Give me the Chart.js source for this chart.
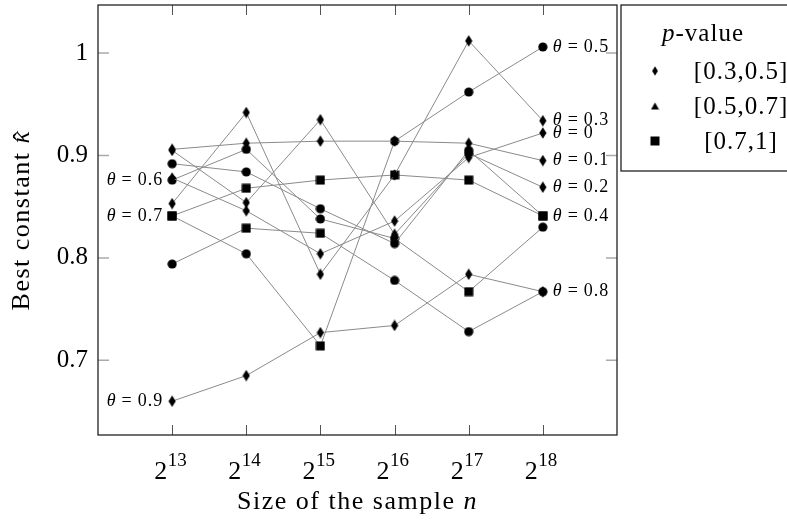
<!DOCTYPE html>
<html>
<head>
<meta charset="utf-8">
<script src="https://cdn.jsdelivr.net/npm/chart.js@4.4.1/dist/chart.umd.min.js"></script>
<style>
  body { margin: 0; background: #fff; }
  #mycanvas { display: block; }
</style>
</head>
<body>
<canvas id="mycanvas" width="787" height="520"></canvas>
<script>
// sample size exponents (n = 2^k)
var sizeExp = [13, 14, 15, 16, 17, 18];
var yTicks = [0.7, 0.8, 0.9, 1];

// best constant per theta
var kTheta00 = [0.878, 0.846, 0.804, 0.836, 0.898, 0.922];
var kTheta01 = [0.906, 0.912, 0.914, 0.914, 0.912, 0.895];
var kTheta02 = [0.905, 0.854, 0.935, 0.823, 0.902, 0.869];
var kTheta03 = [0.853, 0.942, 0.784, 0.881, 1.012, 0.934];
var kTheta04 = [0.892, 0.884, 0.848, 0.814, 0.905, 0.841];
var kTheta05 = [0.841, 0.804, 0.714, 0.914, 0.962, 1.006];
var kTheta06 = [0.876, 0.906, 0.838, 0.819, 0.767, 0.830];
var kTheta07 = [0.841, 0.868, 0.876, 0.881, 0.876, 0.841];
var kTheta08 = [0.794, 0.829, 0.824, 0.778, 0.728, 0.767];
var kTheta09 = [0.660, 0.685, 0.727, 0.734, 0.784, 0.767];

// p-value class of each point: 0 = below 0.3, 1 = [0.3,0.5], 2 = [0.5,0.7], 3 = [0.7,1]
var pTheta00 = [1, 1, 1, 1, 1, 1];
var pTheta01 = [1, 1, 1, 1, 1, 1];
var pTheta02 = [1, 1, 1, 1, 0, 1];
var pTheta03 = [1, 1, 1, 1, 1, 1];
var pTheta04 = [0, 0, 0, 0, 0, 3];
var pTheta05 = [3, 0, 3, 0, 0, 0];
var pTheta06 = [0, 0, 0, 0, 3, 0];
var pTheta07 = [3, 3, 3, 3, 3, 3];
var pTheta08 = [0, 3, 3, 0, 0, 0];
var pTheta09 = [1, 1, 1, 1, 1, 1];

var thetaNames = ['0', '0.1', '0.2', '0.3', '0.4', '0.5', '0.6', '0.7', '0.8', '0.9'];
var legendTitle = 'value';
var legendLabels = ['[0.3,0.5]', '[0.5,0.7]', '[0.7,1]'];
var xTitle = 'Size of the sample ';
var yTitle = 'Best constant ';

var kAll = [kTheta00, kTheta01, kTheta02, kTheta03, kTheta04, kTheta05, kTheta06, kTheta07, kTheta08, kTheta09];
var pAll = [pTheta00, pTheta01, pTheta02, pTheta03, pTheta04, pTheta05, pTheta06, pTheta07, pTheta08, pTheta09];
// which end gets the theta label
var labelLeft = [false, false, false, false, false, false, true, true, false, true];

var SERIF = '"Liberation Serif", "DejaVu Serif", serif';

function mk(w, h, draw) {
	var c = document.createElement('canvas');
	c.width = w; c.height = h;
	var g = c.getContext('2d');
	g.fillStyle = '#000';
	g.beginPath();
	draw(g, w, h);
	g.fill();
	return c;
}
var mCircle = mk(10, 10, function(g){ g.arc(5, 5, 4.6, 0, Math.PI * 2); });
var mDiamond = mk(8, 12, function(g){ g.moveTo(4, 0.3); g.lineTo(7.6, 6); g.lineTo(4, 11.7); g.lineTo(0.4, 6); g.closePath(); });
var mTriangle = mk(9, 8, function(g){ g.moveTo(4.5, 0.5); g.lineTo(8.5, 7.5); g.lineTo(0.5, 7.5); g.closePath(); });
var mSquare = mk(10, 10, function(g){ g.rect(0.5, 0.5, 9, 9); });
var markFor = [mCircle, mDiamond, mTriangle, mSquare];

var datasets = [];
for (var i = 0; i < kAll.length; i++) {
	var pts = [];
	for (var j = 0; j < sizeExp.length; j++) pts.push({x: sizeExp[j], y: kAll[i][j]});
	datasets.push({
		label: 'theta = ' + thetaNames[i],
		data: pts,
		borderColor: '#8a8a8a',
		borderWidth: 1,
		pointStyle: pAll[i].map(function(c){ return markFor[c]; }),
		pointRadius: 5,
		pointHoverRadius: 5,
		tension: 0,
		clip: false
	});
}

function spaced(ctx, px) {
	if ('letterSpacing' in ctx) ctx.letterSpacing = px + 'px';
}

var framePlugin = {
	id: 'frame',
	afterDraw: function(chart) {
		var ctx = chart.ctx, a = chart.chartArea;
		var xs = chart.scales.x, ys = chart.scales.y;
		ctx.save();
		// inner ticks
		ctx.lineWidth = 1;
		ctx.strokeStyle = '#555';
		sizeExp.forEach(function(e){
			var px = Math.round(xs.getPixelForValue(e)) + 0.5;
			ctx.beginPath();
			ctx.moveTo(px, a.top); ctx.lineTo(px, a.top + 10);
			ctx.moveTo(px, a.bottom); ctx.lineTo(px, a.bottom - 10);
			ctx.stroke();
		});
		ctx.strokeStyle = '#aaa';
		ctx.lineWidth = 1.5;
		yTicks.forEach(function(v){
			var py = ys.getPixelForValue(v);
			ctx.beginPath();
			ctx.moveTo(a.left, py); ctx.lineTo(a.left + 11, py);
			ctx.moveTo(a.right, py); ctx.lineTo(a.right - 11, py);
			ctx.stroke();
		});
		// frame
		ctx.strokeStyle = '#222';
		ctx.lineWidth = 1.3;
		ctx.strokeRect(a.left, a.top, a.right - a.left, a.bottom - a.top);

		// x tick labels 2^k
		ctx.fillStyle = '#000';
		ctx.textBaseline = 'alphabetic';
		ctx.textAlign = 'left';
		sizeExp.forEach(function(e){
			var px = xs.getPixelForValue(e);
			ctx.font = '26px ' + SERIF;
			var wb = ctx.measureText('2').width;
			ctx.font = '19px ' + SERIF;
			var we = ctx.measureText(String(e)).width;
			var x0 = px - (wb + we) / 2 - 2;
			ctx.font = '26px ' + SERIF;
			ctx.fillText('2', x0, 479);
			ctx.font = '19px ' + SERIF;
			ctx.fillText(String(e), x0 + wb + 0.5, 466);
		});

		// axis titles
		ctx.font = '26px ' + SERIF;
		spaced(ctx, 1.5);
		var wx = ctx.measureText(xTitle).width;
		ctx.font = 'italic 26px ' + SERIF;
		var wn = ctx.measureText('n').width;
		var tx = (a.left + a.right) / 2 - (wx + wn) / 2;
		ctx.font = '26px ' + SERIF;
		ctx.fillText(xTitle, tx, 509);
		ctx.font = 'italic 26px ' + SERIF;
		ctx.fillText('n', tx + wx, 509);

		ctx.save();
		ctx.translate(29, (a.top + a.bottom) / 2);
		ctx.rotate(-Math.PI / 2);
		ctx.font = '26px ' + SERIF;
		var wy = ctx.measureText(yTitle).width;
		ctx.font = 'italic 26px ' + SERIF;
		var wk = ctx.measureText('κ').width;
		var ty = -(wy + wk) / 2;
		ctx.font = '26px ' + SERIF;
		ctx.fillText(yTitle, ty, 0);
		ctx.font = 'italic 26px ' + SERIF;
		ctx.fillText('κ', ty + wy, 0);
		ctx.font = '26px ' + SERIF;
		ctx.textAlign = 'center';
		ctx.fillText('\u02C6', ty + wy + wk / 2 + 1, 2);
		ctx.restore();
		spaced(ctx, 0);

		// theta labels at series ends
		ctx.textBaseline = 'middle';
		ctx.textAlign = 'left';
		for (var i = 0; i < kAll.length; i++) {
			var meta = chart.getDatasetMeta(i);
			var pt = labelLeft[i] ? meta.data[0] : meta.data[meta.data.length - 1];
			var w1, w2, w3;
			ctx.font = 'italic 18px ' + SERIF; w1 = ctx.measureText('θ').width;
			ctx.font = '18px ' + SERIF; w2 = ctx.measureText('=').width;
			spaced(ctx, 1);
			w3 = ctx.measureText(thetaNames[i]).width;
			spaced(ctx, 0);
			var gap = 6;
			var total = w1 + gap + w2 + gap + w3;
			var x = labelLeft[i] ? pt.x - 9 - total : pt.x + 10;
			ctx.font = 'italic 18px ' + SERIF;
			ctx.fillText('θ', x, pt.y);
			ctx.font = '18px ' + SERIF;
			ctx.fillText('=', x + w1 + gap, pt.y);
			spaced(ctx, 1);
			ctx.fillText(thetaNames[i], x + w1 + gap + w2 + gap, pt.y);
			spaced(ctx, 0);
		}

		// p-value legend box
		ctx.strokeStyle = '#222';
		ctx.lineWidth = 1.3;
		ctx.strokeRect(621, 5, 200, 166);
		ctx.textBaseline = 'alphabetic';
		spaced(ctx, 1);
		ctx.font = 'italic 25px ' + SERIF;
		var wp = ctx.measureText('p').width;
		ctx.font = '25px ' + SERIF;
		var wv = ctx.measureText('-' + legendTitle).width;
		var lx = 703 - (wp + wv) / 2;
		ctx.textAlign = 'left';
		ctx.font = 'italic 25px ' + SERIF;
		ctx.fillText('p', lx, 41);
		ctx.font = '25px ' + SERIF;
		ctx.fillText('-' + legendTitle, lx + wp, 41);
		var legMarks = [mDiamond, mTriangle, mSquare];
		var legY = [71, 106, 141];
		var legBase = [79, 114, 149];
		ctx.textAlign = 'center';
		for (var k = 0; k < legendLabels.length; k++) {
			var m = legMarks[k];
			var s = k === 0 ? 0.8 : 1;
			ctx.drawImage(m, 655 - m.width * s / 2, legY[k] - m.height * s / 2, m.width * s, m.height * s);
			ctx.fillText(legendLabels[k], 741, legBase[k]);
		}
		spaced(ctx, 0);
		ctx.restore();
	}
};

var ctx = document.getElementById('mycanvas');
var chart = new Chart(ctx, {
	type: 'line',
	data: { datasets: datasets },
	options: {
		responsive: false,
		animation: false,
		devicePixelRatio: 1,
		layout: { autoPadding: false, padding: { left: 0, right: 170, top: 5, bottom: 0 } },
		plugins: { legend: { display: false }, tooltip: { enabled: false } },
		scales: {
			x: {
				type: 'linear',
				min: 12, max: 19,
				grid: { display: false, drawTicks: false },
				border: { display: false },
				ticks: { display: false },
				afterBuildTicks: function(s){ s.ticks = sizeExp.map(function(v){ return {value: v}; }); },
				afterFit: function(s){ s.height = 85; s.paddingLeft = 0; s.paddingRight = 0; }
			},
			y: {
				type: 'linear',
				min: 0.627, max: 1.047,
				grid: { display: false, drawTicks: false },
				border: { display: false },
				afterBuildTicks: function(s){ s.ticks = yTicks.map(function(v){ return {value: v}; }); },
				afterFit: function(s){ s.width = 98; s.paddingTop = 0; s.paddingBottom = 0; },
				ticks: {
					color: '#000',
					padding: 10,
					font: { family: SERIF, size: 25 },
					callback: function(v){ return v === 1 ? '1' : v.toFixed(1); }
				}
			}
		}
	},
	plugins: [framePlugin]
});
</script>
</body>
</html>
